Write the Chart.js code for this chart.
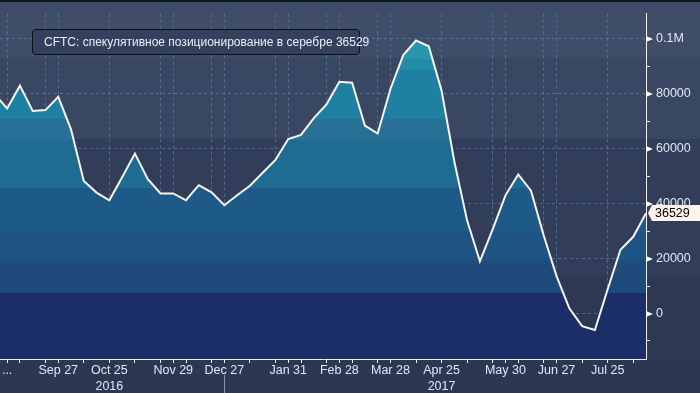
<!DOCTYPE html>
<html>
<head>
<meta charset="utf-8">
<script src="https://cdn.jsdelivr.net/npm/chart.js@4.4.0/dist/chart.umd.min.js"></script>
<style>
    html, body { margin: 0; padding: 0; background: #2c3851; }
    #wrap { position: relative; width: 700px; height: 393px; }
    #legend {
        position: absolute; left: 32px; top: 29px; width: 328px; height: 26px;
        box-sizing: border-box; border: 1px solid #0d1018; border-radius: 4px;
        background: #34405c; color: #e8edf6;
        font: 12px "Liberation Sans", Arial, sans-serif;
        display: flex; align-items: center; padding-left: 6px; white-space: nowrap;
    }
    #legend i { display: inline-block; width: 9px; height: 9px; background: #fff3ef; margin-right: 5px; }
</style>
</head>
<body>
<div id="wrap">
    <canvas id="grafico" width="700" height="393"></canvas>
    <div id="legend"><i></i><span id="legend-text"></span></div>
</div>
<script>
// Недельные данные CFTC, индекс 0 = 23 авг 2016, последний = 15 авг 2017
const values = [
    80000, 74600, 82900, 73700, 74000, 78800, 67000, 48200, 44000, 41200,
    49600, 58200, 49000, 43700, 43700, 41200, 46700, 44100, 39400, 43000,
    46500, 51200, 55900, 63500, 65000, 71100, 76100, 84300, 84000, 68400,
    65500, 81700, 94000, 99300, 97200, 81100, 55300, 33800, 19000, 30600,
    43000, 50600, 44700, 28300, 13600, 1900, -4600, -6000, 8800, 23200,
    27900, 36529,
];
const seriesName = "CFTC: спекулятивное позиционирование в серебре";

// ось X (номера недель)
const xTicks   = [1, 2, 4, 5, 7, 9, 11, 13, 14, 15, 17, 18, 20, 22, 23, 24, 26, 27, 28,
                  30, 31, 33, 35, 37, 39, 40, 41, 43, 44, 46, 48, 50];
const xGrid    = [1, 4, 5, 9, 13, 14, 17, 18, 22, 23, 26, 27, 30, 31, 35, 39, 40, 43, 44, 48];
const xLabelAt = [1, 5, 9, 14, 18, 23, 27, 31, 35, 40, 44, 48];
const xLabels  = ["...", "Sep 27", ["Oct 25", "2016"], "Nov 29", "Dec 27", "Jan 31",
                  "Feb 28", "Mar 28", ["Apr 25", "2017"], "May 30", "Jun 27", "Jul 25"];
const yearSplitAt = 18;

// ось Y
const yTicks   = [-10000, 0, 10000, 20000, 30000, 40000, 50000, 60000, 70000, 80000, 90000, 100000];
const yMajor   = [0, 20000, 40000, 60000, 80000, 100000];
const yLabels  = ["0", "20000", "40000", "60000", "80000", "0.1M"];

// полосы фона и заливки (границы по значению, сверху вниз)
const bgEdges   = [93000, 63400, 13700];
const bgColors  = ["#404d69", "#3a4763", "#323e59", "#2d3852"];
const fillEdges = [92600, 88700, 70800, 63000, 45800, 29600, 19400, 7400];
const fillColors = ["#2796ad", "#238da8", "#1f81a1", "#287096", "#1e6c91",
                    "#1e5a88", "#1e5484", "#1e4a7c", "#1b2e67"];

const GRID = "rgba(78,130,160,0.75)";
const TXT  = "#dfe7f5";

function gradienteBandas(chart) {
    const { ctx, chartArea, scales } = chart;
    if (!chartArea) return null;
    const top = chartArea.top, bot = chartArea.bottom, h = bot - top;
    const g = ctx.createLinearGradient(0, top, 0, bot);
    let prev = 0;
    fillEdges.forEach((v, i) => {
        const f = Math.min(1, Math.max(0, (scales.y.getPixelForValue(v) - top) / h));
        g.addColorStop(prev, fillColors[i]);
        g.addColorStop(f, fillColors[i]);
        prev = f;
    });
    g.addColorStop(prev, fillColors[fillColors.length - 1]);
    g.addColorStop(1, fillColors[fillColors.length - 1]);
    return g;
}

const fondo = {
    id: "fondo",
    beforeDraw(chart) {
        const { ctx, chartArea, scales, width, height } = chart;
        ctx.save();
        ctx.fillStyle = "#2c3851";
        ctx.fillRect(0, 0, width, height);
        let yPrev = 0;
        bgEdges.forEach((v, i) => {
            const y = scales.y.getPixelForValue(v);
            ctx.fillStyle = bgColors[i];
            ctx.fillRect(0, yPrev, width, y - yPrev);
            yPrev = y;
        });
        ctx.fillStyle = bgColors[bgColors.length - 1];
        ctx.fillRect(0, yPrev, width, chartArea.bottom - yPrev);
        ctx.fillStyle = "#141820";
        ctx.fillRect(0, 0, width, 2);
        ctx.restore();
    },
    afterDraw(chart) {
        const { ctx, chartArea, scales } = chart;
        const ys = scales.y, xs = scales.x;
        ctx.save();
        // треугольники у основных делений
        ctx.fillStyle = "#ffffff";
        yMajor.forEach((v) => {
            const y = Math.round(ys.getPixelForValue(v));
            ctx.beginPath();
            ctx.moveTo(chartArea.right, y - 3);
            ctx.lineTo(chartArea.right + 7, y);
            ctx.lineTo(chartArea.right, y + 3);
            ctx.closePath();
            ctx.fill();
        });
        // разделитель лет
        const xs18 = Math.round(xs.getPixelForValue(yearSplitAt)) + 0.5;
        ctx.strokeStyle = "#8a93a6";
        ctx.lineWidth = 1;
        ctx.beginPath();
        ctx.moveTo(xs18, chartArea.bottom + 16);
        ctx.lineTo(xs18, chart.height);
        ctx.stroke();
        // метка последнего значения
        const last = values[values.length - 1];
        const y = ys.getPixelForValue(last);
        const x0 = chartArea.right + 2;
        ctx.fillStyle = "#fff4ec";
        ctx.beginPath();
        ctx.moveTo(x0, y);
        ctx.lineTo(x0 + 4, y - 8);
        ctx.lineTo(chart.width, y - 8);
        ctx.lineTo(chart.width, y + 8);
        ctx.lineTo(x0 + 4, y + 8);
        ctx.closePath();
        ctx.fill();
        ctx.fillStyle = "#000000";
        ctx.font = '12.5px "Liberation Sans", Arial, sans-serif';
        ctx.textBaseline = "middle";
        ctx.fillText(String(last), x0 + 7, y + 0.5);
        ctx.restore();
    },
};

document.getElementById("legend-text").textContent = seriesName + " " + values[values.length - 1];

Chart.defaults.font.family = '"Liberation Sans", Arial, sans-serif';

new Chart(document.getElementById("grafico").getContext("2d"), {
    type: "line",
    data: {
        datasets: [{
            label: seriesName,
            data: values.map((v, i) => ({ x: i, y: v })),
            borderColor: "#f8f4ee",
            borderWidth: 2,
            backgroundColor: (c) => gradienteBandas(c.chart),
            fill: "start",
            tension: 0,
            pointRadius: 0,
        }],
    },
    options: {
        responsive: false,
        animation: false,
        devicePixelRatio: 1,
        layout: { autoPadding: false, padding: { top: 2, left: 0, right: 0, bottom: 0 } },
        plugins: { legend: { display: false }, tooltip: { enabled: false } },
        scales: {
            x: {
                type: "linear",
                min: 0.442,
                max: 51,
                z: 1,
                afterBuildTicks: (s) => { s.ticks = xTicks.map((v) => ({ value: v })); },
                afterFit: (s) => { s.height = 34; },
                ticks: {
                    autoSkip: false,
                    maxRotation: 0,
                    padding: 0,
                    color: TXT,
                    font: { size: 12.5, lineHeight: 1.25 },
                    callback: (v) => {
                        const k = xLabelAt.indexOf(v);
                        return k >= 0 ? xLabels[k] : "";
                    },
                },
                grid: {
                    color: (c) => (c.tick && xGrid.includes(c.tick.value) ? GRID : "transparent"),
                    tickColor: "#f0f0f0",
                    tickLength: 4,
                    lineWidth: 1,
                },
                border: { color: "#f0f0f0", width: 1, dash: [3, 3] },
            },
            y: {
                position: "right",
                min: -16550,
                max: 109150,
                z: 1,
                afterBuildTicks: (s) => { s.ticks = yTicks.map((v) => ({ value: v })); },
                afterFit: (s) => { s.width = 54; },
                ticks: {
                    padding: 6,
                    color: TXT,
                    font: { size: 12.5 },
                    callback: (v) => {
                        const k = yMajor.indexOf(v);
                        return k >= 0 ? yLabels[k] : "";
                    },
                },
                grid: {
                    color: (c) => (c.tick && yMajor.includes(c.tick.value) ? GRID : "transparent"),
                    tickColor: (c) => (c.tick && yMajor.includes(c.tick.value) ? "transparent" : "#f0f0f0"),
                    tickLength: 4,
                    lineWidth: 1,
                },
                border: { color: "#f0f0f0", width: 1, dash: [3, 3] },
            },
        },
    },
    plugins: [fondo],
});
</script>
</body>
</html>
